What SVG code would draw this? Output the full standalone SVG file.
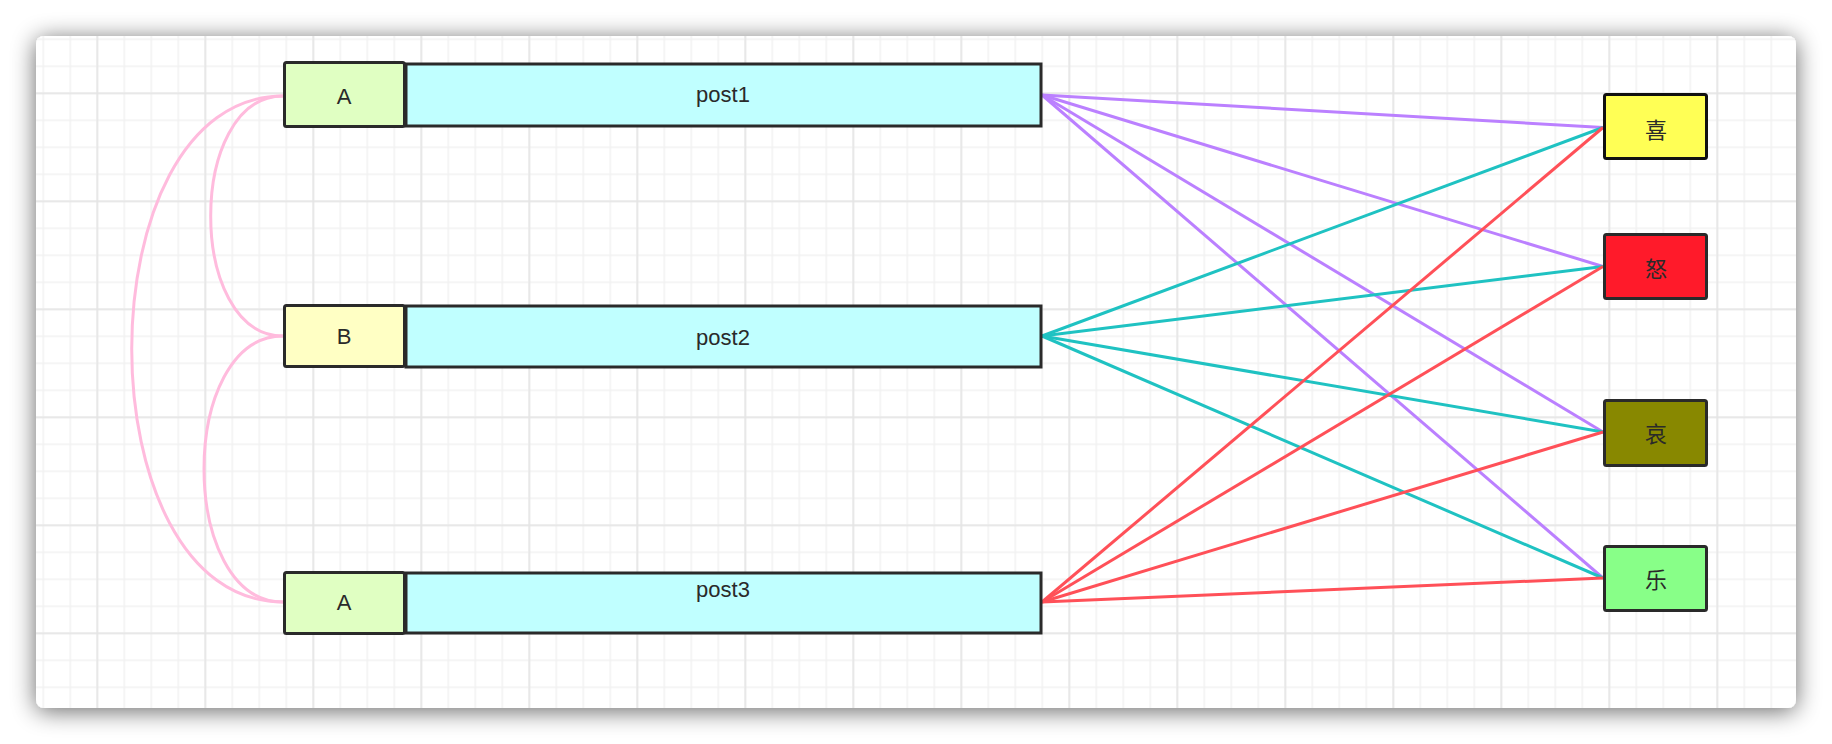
<svg xmlns="http://www.w3.org/2000/svg" width="1832" height="744" viewBox="0 0 1832 744">
<defs>
<filter id="shadow" x="-10%" y="-20%" width="120%" height="140%">
<feGaussianBlur in="SourceAlpha" stdDeviation="12"/>
<feOffset dx="0" dy="3" result="b"/>
<feComponentTransfer><feFuncA type="linear" slope="0.6"/></feComponentTransfer>
<feMerge><feMergeNode/><feMergeNode in="SourceGraphic"/></feMerge>
</filter>
<pattern id="minor" patternUnits="userSpaceOnUse" x="42.5" y="38.5" width="27" height="27">
<rect x="0" y="0" width="1.5" height="27" fill="#f1f1f1"/>
<rect x="0" y="0" width="27" height="1.5" fill="#f1f1f1"/>
</pattern>
<pattern id="major" patternUnits="userSpaceOnUse" x="96.5" y="92.5" width="108" height="108">
<rect x="0" y="0" width="1.5" height="108" fill="#e4e4e4"/>
<rect x="0" y="0" width="108" height="1.5" fill="#e4e4e4"/>
</pattern>
<style>
.box{stroke:#2a2a2a;stroke-width:3}
.lbl{font-family:"Liberation Sans",Arial,sans-serif;font-size:22px;fill:#2a2a2a;text-anchor:middle}
.cjk{font-family:"Noto Sans CJK SC","Liberation Sans",sans-serif;font-size:22px;fill:#2a2a2a;text-anchor:middle;dominant-baseline:central}
.p{stroke:#bb80ff;stroke-width:3;fill:none}
.t{stroke:#1fc2c2;stroke-width:3;fill:none}
.r{stroke:#ff5058;stroke-width:3;fill:none}
.k{stroke:#ffbbdd;stroke-width:3;fill:none}
</style>
</defs>
<rect width="1832" height="744" fill="#ffffff"/>
<rect x="36" y="36" width="1760" height="672" rx="8" fill="#ffffff" filter="url(#shadow)"/>
<rect x="36" y="36" width="1760" height="672" rx="8" fill="url(#minor)"/>
<rect x="36" y="36" width="1760" height="672" rx="8" fill="url(#major)"/>

<g id="connectors">
<path class="k" d="M283,96 C186.6,96 186.6,336 283,336"/>
<path class="k" d="M283,336 C177.7,336 177.7,602 283,602"/>
<path class="k" d="M283,96 C81.3,96 81.3,602 283,602"/>
<path class="p" d="M1042,95 L1603,127.5"/>
<path class="p" d="M1042,95 L1603,266.5"/>
<path class="p" d="M1042,95 L1603,432"/>
<path class="p" d="M1042,95 L1603,578"/>
<path class="t" d="M1042,336 L1603,127.5"/>
<path class="t" d="M1042,336 L1603,266.5"/>
<path class="t" d="M1042,336 L1603,432"/>
<path class="t" d="M1042,336 L1603,578"/>
<path class="r" d="M1042,602 L1603,127.5"/>
<path class="r" d="M1042,602 L1603,266.5"/>
<path class="r" d="M1042,602 L1603,432"/>
<path class="r" d="M1042,602 L1603,578"/>
</g>

<g id="post1"><rect class="box" x="406" y="64" width="635" height="62" fill="#c0ffff"/><text class="lbl" x="723" y="102">post1</text></g>
<g id="nodeA1"><rect class="box" x="284.5" y="62.5" width="120" height="64" rx="2" fill="#e0ffc2"/><text class="lbl" x="344" y="103.5">A</text></g>
<g id="post2"><rect class="box" x="406" y="306" width="635" height="61" fill="#c0ffff"/><text class="lbl" x="723" y="345">post2</text></g>
<g id="nodeB"><rect class="box" x="284.5" y="305.5" width="120" height="61" rx="2" fill="#ffffc4"/><text class="lbl" x="344" y="344">B</text></g>
<g id="post3"><rect class="box" x="406" y="573" width="635" height="60" fill="#c0ffff"/><text class="lbl" x="723" y="597">post3</text></g>
<g id="nodeA3"><rect class="box" x="284.5" y="572.5" width="120" height="61" rx="2" fill="#e0ffc2"/><text class="lbl" x="344" y="610">A</text></g>

<g id="xi"><rect x="1604.5" y="94.5" width="102" height="64" rx="2" fill="#ffff55" stroke="#111111" stroke-width="3"/><text class="cjk" x="1656" y="127.5">喜</text></g>
<g id="nu"><rect class="box" x="1604.5" y="234.5" width="102" height="64" rx="2" fill="#ff1a2a"/><text class="cjk" x="1656" y="266.5">怒</text></g>
<g id="ai"><rect class="box" x="1604.5" y="400.5" width="102" height="65" rx="2" fill="#888800"/><text class="cjk" x="1656" y="432">哀</text></g>
<g id="le"><rect class="box" x="1604.5" y="546.5" width="102" height="64" rx="2" fill="#88ff88"/><text class="cjk" x="1656" y="578">乐</text></g>
</svg>
